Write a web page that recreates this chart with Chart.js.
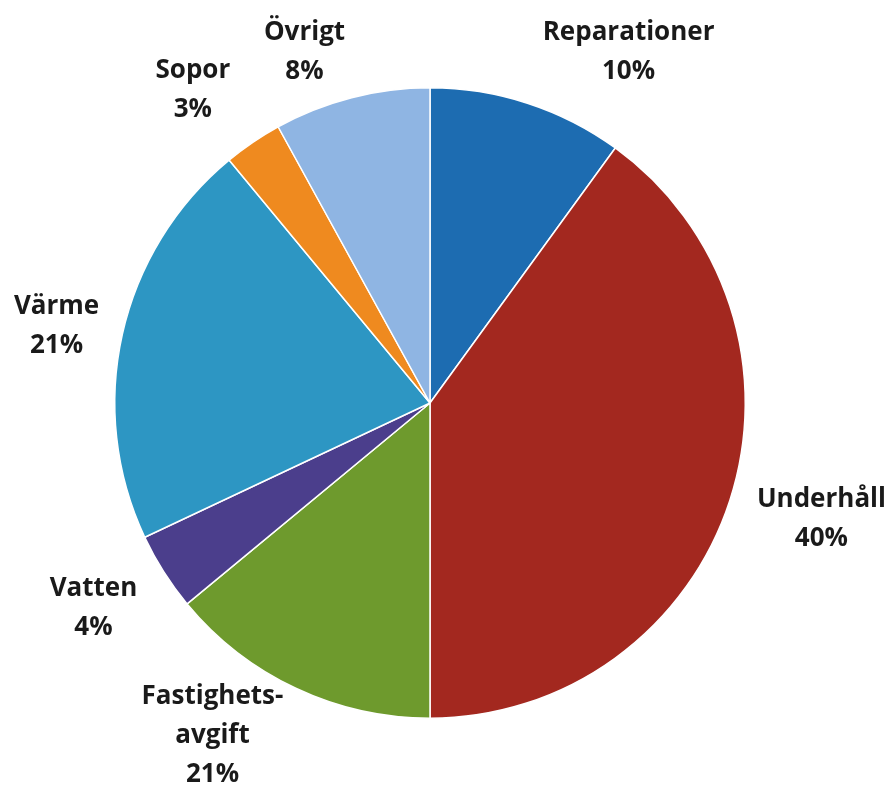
<!DOCTYPE html>
<html>
<head>
<meta charset="utf-8">
<script src="https://cdn.jsdelivr.net/npm/chart.js@4"></script>
<style>
  html, body { margin: 0; padding: 0; background: #fff; }
  #wrap { width: 890px; height: 787px; }
</style>
</head>
<body>
<div id="wrap"><canvas id="costChart"></canvas></div>
<script>
// Data (slice sizes), label text as printed
const categories = ['Reparationer', 'Underhåll', 'Fastighets-\navgift', 'Vatten', 'Värme', 'Sopor', 'Övrigt'];
const shares = [10, 40, 14, 4, 21, 3, 8];
const percentLabels = ['10%', '40%', '21%', '4%', '21%', '3%', '8%'];
const sliceColors = ['#1d6cb1', '#a3281f', '#6e9a2d', '#4b3e8c', '#2d96c3', '#ef8a1f', '#8fb5e3'];

// label nudges: [angle in degrees, extra distance in px]
const labelNudge = [[11.5, 6], [-1.5, 11], [8, 0], [1, -3], [-1, -16], [-3, -5], [-5.3, -25]];

const outsideLabels = {
    id: 'outsideLabels',
    afterDatasetsDraw(chart) {
        const ctx = chart.ctx;
        const meta = chart.getDatasetMeta(0);
        ctx.save();
        ctx.font = 'bold 26px "Open Sans"';
        ctx.fillStyle = '#1a1a1a';
        ctx.textAlign = 'center';
        ctx.textBaseline = 'middle';
        meta.data.forEach((arc, i) => {
            const mid = (arc.startAngle + arc.endAngle) / 2 + labelNudge[i][0] * Math.PI / 180;
            const dist = arc.outerRadius + 82 + labelNudge[i][1];
            const x = arc.x + Math.cos(mid) * dist;
            const y = arc.y + Math.sin(mid) * dist;
            const lines = categories[i].split('\n').concat(percentLabels[i]);
            const lh = 39;
            const top = y - (lines.length - 1) * lh / 2;
            lines.forEach((t, k) => ctx.fillText(t, x, top + k * lh));
        });
        ctx.restore();
    }
};

const ctx = document.getElementById('costChart').getContext('2d');
const costChart = new Chart(ctx, {
    type: 'pie',
    data: {
        labels: categories,
        datasets: [{
            data: shares,
            backgroundColor: sliceColors,
            borderColor: '#ffffff',
            borderWidth: 1.5
        }]
    },
    options: {
        responsive: true,
        maintainAspectRatio: false,
        animation: false,
        layout: {
            padding: { left: 114, right: 144, top: 87, bottom: 68 }
        },
        plugins: {
            legend: { display: false },
            tooltip: { enabled: false }
        }
    },
    plugins: [outsideLabels]
});
</script>
</body>
</html>
